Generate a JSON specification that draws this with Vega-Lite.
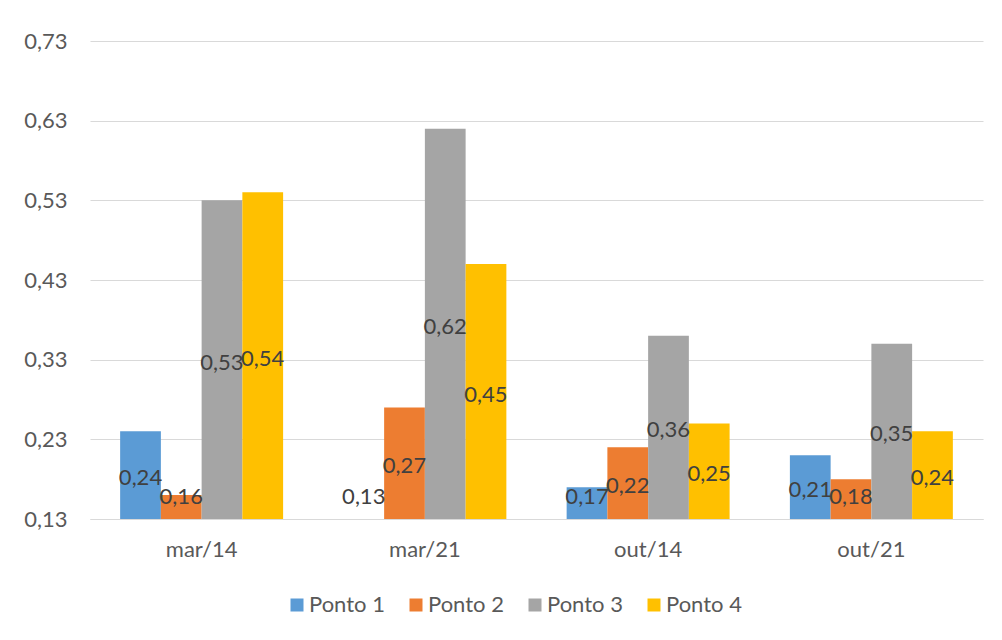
{
  "$schema": "https://vega.github.io/schema/vega-lite/v6.json",
  "width": 893,
  "height": 478,
  "autosize": {"type": "none"},
  "padding": {"left": 90, "top": 41, "right": 19, "bottom": 121},
  "background": "#ffffff",
  "data": {
    "values": [
      {"data": "mar/14", "ponto": "Ponto 1", "valor": 0.24},
      {"data": "mar/14", "ponto": "Ponto 2", "valor": 0.16},
      {"data": "mar/14", "ponto": "Ponto 3", "valor": 0.53},
      {"data": "mar/14", "ponto": "Ponto 4", "valor": 0.54},
      {"data": "mar/21", "ponto": "Ponto 1", "valor": 0.13},
      {"data": "mar/21", "ponto": "Ponto 2", "valor": 0.27},
      {"data": "mar/21", "ponto": "Ponto 3", "valor": 0.62},
      {"data": "mar/21", "ponto": "Ponto 4", "valor": 0.45},
      {"data": "out/14", "ponto": "Ponto 1", "valor": 0.17},
      {"data": "out/14", "ponto": "Ponto 2", "valor": 0.22},
      {"data": "out/14", "ponto": "Ponto 3", "valor": 0.36},
      {"data": "out/14", "ponto": "Ponto 4", "valor": 0.25},
      {"data": "out/21", "ponto": "Ponto 1", "valor": 0.21},
      {"data": "out/21", "ponto": "Ponto 2", "valor": 0.18},
      {"data": "out/21", "ponto": "Ponto 3", "valor": 0.35},
      {"data": "out/21", "ponto": "Ponto 4", "valor": 0.24}
    ]
  },
  "encoding": {
    "x": {
      "field": "data",
      "type": "nominal",
      "sort": null,
      "scale": {"paddingInner": 0.27, "paddingOuter": 0.135},
      "axis": {
        "title": null,
        "labelAngle": 0,
        "ticks": false,
        "domain": true,
        "domainColor": "#d9d9d9",
        "domainWidth": 1,
        "labelPadding": 20,
        "labelFont": "Lato",
        "labelFontSize": 22,
        "labelColor": "#595959"
      }
    },
    "xOffset": {
      "field": "ponto",
      "type": "nominal",
      "sort": null,
      "scale": {"paddingInner": 0, "paddingOuter": 0}
    }
  },
  "layer": [
    {
      "mark": {"type": "bar"},
      "encoding": {
        "y": {
          "field": "valor",
          "type": "quantitative",
          "scale": {"domain": [0.13, 0.73], "zero": false, "nice": false},
          "axis": {
            "title": null,
            "values": [0.13, 0.23, 0.33, 0.43, 0.53, 0.63, 0.73],
            "format": ".2f",
            "domain": false,
            "ticks": false,
            "grid": true,
            "gridColor": "#d9d9d9",
            "gridWidth": 1,
            "labelPadding": 23,
            "labelFont": "Lato",
            "labelFontSize": 22,
            "labelColor": "#595959"
          }
        },
        "y2": {"datum": 0.13},
        "color": {
          "field": "ponto",
          "type": "nominal",
          "sort": null,
          "scale": {
            "domain": ["Ponto 1", "Ponto 2", "Ponto 3", "Ponto 4"],
            "range": ["#5b9bd5", "#ed7d31", "#a5a5a5", "#ffc000"]
          },
          "legend": {
            "title": null,
            "orient": "none",
            "direction": "horizontal",
            "legendX": 196,
            "legendY": 553,
            "symbolType": "square",
            "symbolSize": 169,
            "symbolStrokeWidth": 0,
            "labelFont": "Lato",
            "labelFontSize": 22,
            "labelColor": "#595959",
            "labelOffset": 1,
            "columnPadding": 20,
            "padding": 0
          }
        }
      }
    },
    {
      "transform": [
        {"calculate": "max((datum.valor + 0.13) / 2, 0.162)", "as": "posRotulo"}
      ],
      "mark": {
        "type": "text",
        "font": "Lato",
        "fontSize": 22,
        "color": "#404040",
        "baseline": "middle",
        "align": "center",
        "dy": 3
      },
      "encoding": {
        "y": {"field": "posRotulo", "type": "quantitative"},
        "text": {"field": "valor", "type": "quantitative", "format": ".2f"}
      }
    }
  ],
  "config": {
    "locale": {
      "number": {
        "decimal": ",",
        "thousands": ".",
        "grouping": [3],
        "currency": ["", " €"]
      }
    },
    "view": {"stroke": null}
  }
}
